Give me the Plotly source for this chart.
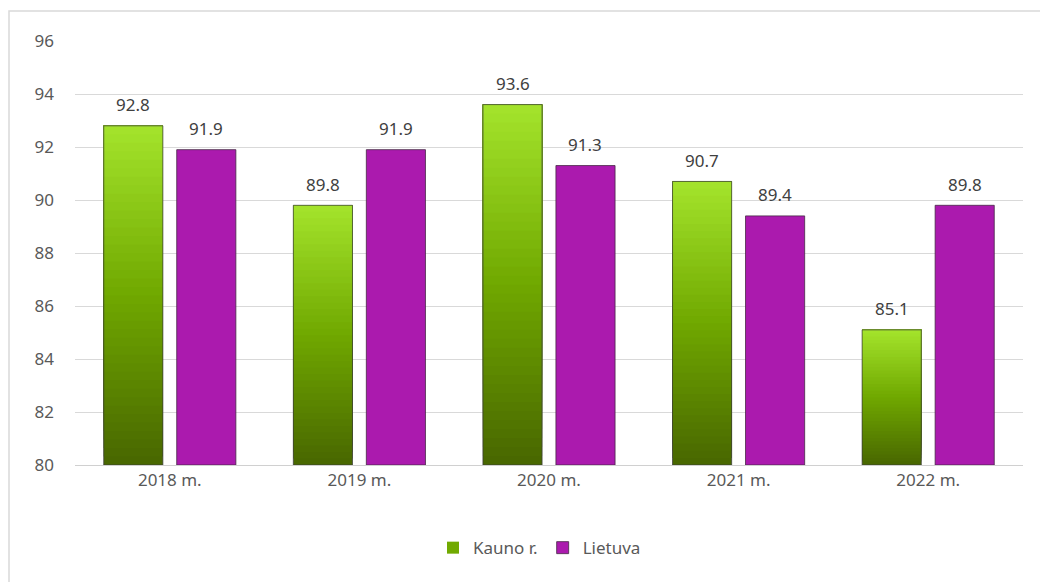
import plotly.graph_objects as go

categories = ["2018 m.", "2019 m.", "2020 m.", "2021 m.", "2022 m."]
kauno = [92.8, 89.8, 93.6, 90.7, 85.1]
lietuva = [91.9, 91.9, 91.3, 89.4, 89.8]
y_ticks = [80, 82, 84, 86, 88, 90, 92, 94, 96]

W, H = 1040, 582
ML, MR, MT, MB = 75, 17, 41, 117
BASE = 80
BARGAP = 0.23
GROUPGAP = 0.19
FONT = "Noto Sans"
FS = 17

plot_w = W - ML - MR
plot_h = H - MT - MB
cat_w = plot_w / len(categories)
slot = cat_w * (1 - BARGAP) / 2
offset_px = slot / 2

def lerp(c1, c2, t):
    return tuple(round(a + (b - a) * t) for a, b in zip(c1, c2))

bottom_c = (0x48, 0x66, 0x00)
mid_c = (0x70, 0xa8, 0x00)
top_c = (0xa4, 0xe4, 0x2c)

def grad(t):
    if t < 0.5:
        return lerp(bottom_c, mid_c, t / 0.5)
    return lerp(mid_c, top_c, (t - 0.5) / 0.5)

fig = go.Figure()
N = 40
for i in range(N):
    t = (i + 0.5) / N
    r, g, b = grad(t)
    base = [BASE + i * (v - BASE) / N for v in kauno]
    seg = [v - b0 for v, b0 in zip(kauno, base)]
    fig.add_trace(go.Bar(
        x=categories, y=seg, base=base, offsetgroup="k",
        marker=dict(color=f"rgb({r},{g},{b})", line=dict(width=0)),
        name="Kauno r.", showlegend=(i == N // 2), legendrank=1,
        hoverinfo="skip",
    ))
# outline for green bars
fig.add_trace(go.Bar(
    x=categories, y=[v - BASE for v in kauno], base=[BASE] * len(kauno), offsetgroup="k",
    marker=dict(color="rgba(0,0,0,0)", line=dict(color="rgba(60,60,60,0.75)", width=1)),
    showlegend=False, hoverinfo="skip",
))
fig.add_trace(go.Bar(
    x=categories, y=[v - BASE for v in lietuva], base=[BASE] * len(lietuva), offsetgroup="l",
    marker=dict(color="#ab1aae", line=dict(color="rgba(70,40,70,0.8)", width=1)),
    name="Lietuva", legendrank=2,
))

annotations = []
for c, v in zip(categories, kauno):
    annotations.append(dict(x=c, y=v, xref="x", yref="y", text=f"{v:.1f}", showarrow=False,
                            xshift=-offset_px, yshift=21, font=dict(family=FONT, size=FS, color="#404040")))
for c, v in zip(categories, lietuva):
    annotations.append(dict(x=c, y=v, xref="x", yref="y", text=f"{v:.1f}", showarrow=False,
                            xshift=offset_px, yshift=21, font=dict(family=FONT, size=FS, color="#404040")))

fig.update_layout(
    width=W, height=H,
    margin=dict(l=ML, r=MR, t=MT, b=MB),
    paper_bgcolor="white", plot_bgcolor="white",
    barmode="group", bargap=BARGAP, bargroupgap=GROUPGAP,
    font=dict(family=FONT, size=FS, color="#595959"),
    annotations=annotations,
    legend=dict(orientation="h", x=0.49, xanchor="center", y=-0.196, yanchor="middle",
                font=dict(family=FONT, size=FS, color="#595959"), itemwidth=30,
                traceorder="normal"),
    shapes=[dict(type="rect", xref="paper", yref="paper",
                 x0=(9 - ML) / plot_w, x1=1.2,
                 y0=-0.5, y1=(H - MB - 11) / plot_h,
                 line=dict(color="#d9d9d9", width=1.5), layer="below")],
)
fig.update_yaxes(range=[BASE, 96], tickvals=y_ticks, showgrid=True, gridcolor="#d9d9d9",
                 gridwidth=1, zeroline=False, showline=False, ticks="",
                 ticklabelstandoff=20, tickfont=dict(size=FS, color="#595959"))
fig.update_xaxes(showline=True, linecolor="#d0d0d0", linewidth=1, ticks="",
                 tickfont=dict(size=FS, color="#595959"))

fig.write_html("out.html")
